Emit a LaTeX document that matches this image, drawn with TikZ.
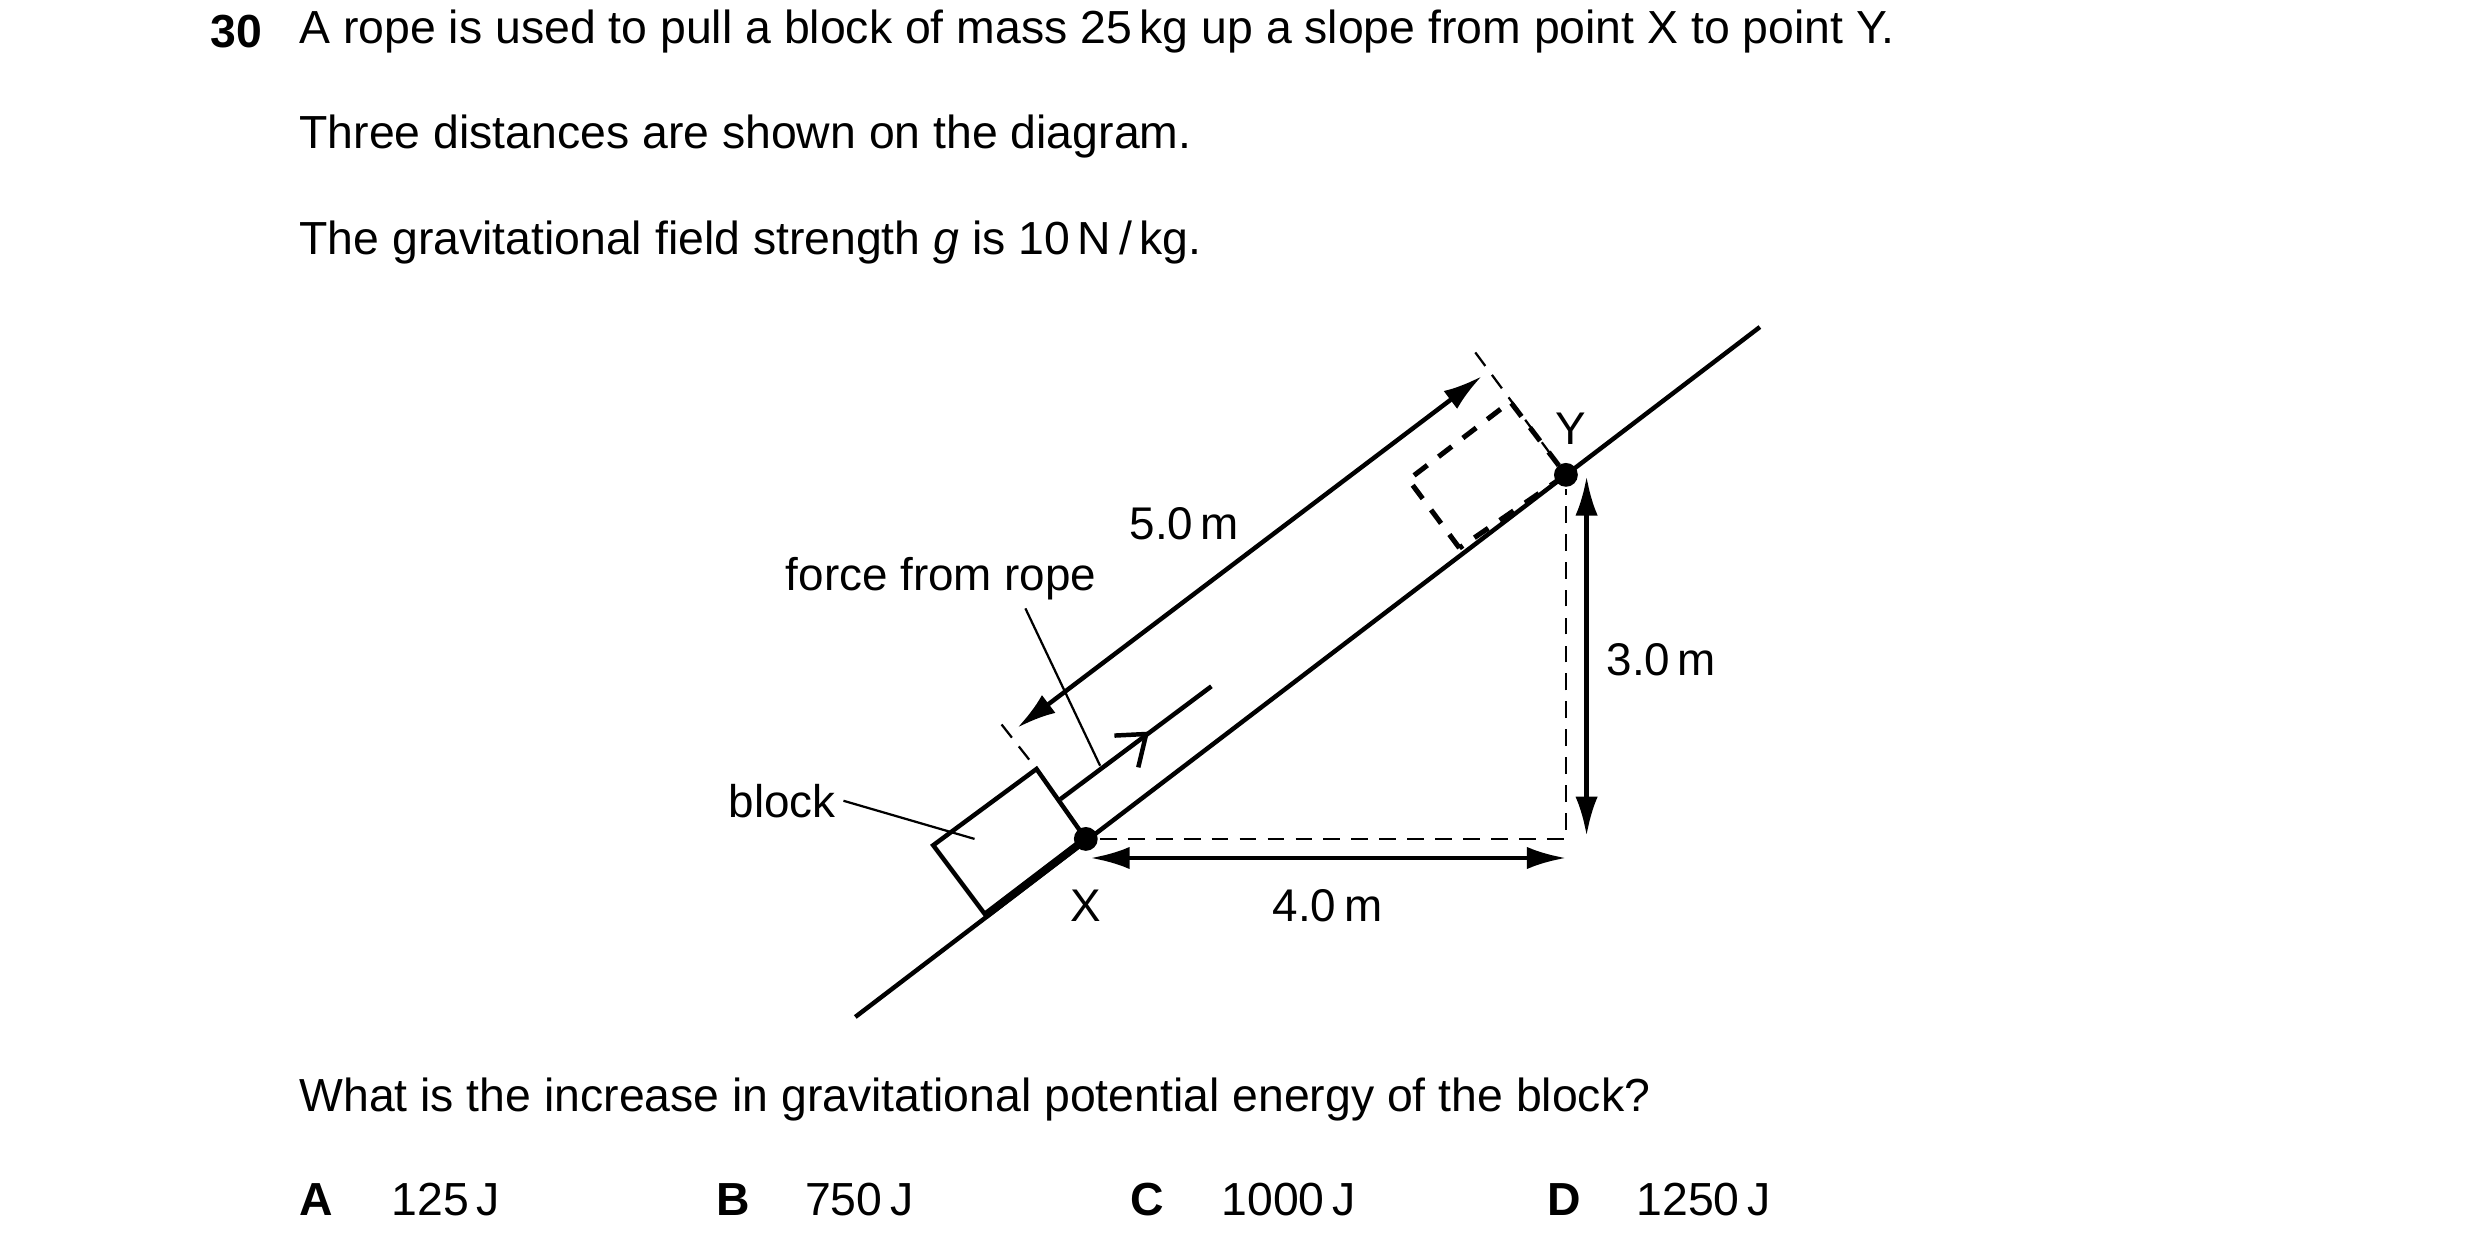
\documentclass[tikz,border=0pt]{standalone}
\usepackage{fontspec}
\setmainfont{Liberation Sans}
\usetikzlibrary{arrows.meta}
\usetikzlibrary{positioning}
\tikzset{
  txt/.style={anchor=west, inner sep=0pt, font=\fontsize{8.3}{10}\selectfont},
  bold txt/.style={txt, font=\fontsize{8.3}{10}\selectfont\bfseries},
  lbl/.style={inner sep=1pt, font=\fontsize{8.2}{10}\selectfont},
  dim/.style={line width=0.8pt, {Latex[length=7pt,width=4pt]}-{Latex[length=7pt,width=4pt]}},
  thin dash/.style={dashed, line width=0.4pt, dash pattern=on 3pt off 2pt},
  thick dash/.style={line width=0.9pt, dash pattern=on 3pt off 2.5pt},
  dot/.style={circle, fill=black, inner sep=0pt, minimum size=0.15cm}
}
\begin{document}
\begin{tikzpicture}[line width=0.8pt]
            \useasboundingbox (0,0) rectangle (15.6,7.857);
            % Question text
            \node[bold txt] (num) at (1.31,7.66) {30};
            \node[txt] (q1) at (1.87,7.66) {A rope is used to pull a block of mass 25\,kg up a slope from point X to point Y.};
            \node[txt] (q2) at (1.87,7.00) {Three distances are shown on the diagram.};
            \node[txt] (q3) at (1.87,6.33) {The gravitational field strength \textit{g} is 10\,N\,/\,kg.};
            
            % Slope and points
            \coordinate (s0) at (5.38,1.46);
            \coordinate (s1) at (11.07,5.80);
            \node[dot] (X) at (6.83,2.58) {};
            \node[dot] (Y) at (9.85,4.87) {};
            \coordinate (corner) at (9.85,2.58);
            \draw (s0) -- (s1);
            \node[lbl] (xl) at (6.83,2.16) {X};
            \node[lbl] (yl) at (9.88,5.16) {Y};
            
            % Block at X
            \coordinate (b1) at (6.20,2.10);
            \coordinate (b2) at (5.87,2.54);
            \coordinate (b3) at (6.52,3.02);
            \draw (b1) -- (b2) -- (b3) -- (X.center);
            \draw[line width=1.4pt] (b1) -- (X.center);
            
            % Block at Y
            \coordinate (d1) at (9.18,4.41);
            \coordinate (d2) at (8.86,4.84);
            \coordinate (d3) at (9.50,5.33);
            \draw[thick dash] (d1) -- (d2) -- (d3) -- (Y.center) -- cycle;
            
            % Rope
            \coordinate (r0) at (6.67,2.83);
            \coordinate (r1) at (7.62,3.54);
            \coordinate (rt) at (7.21,3.24);
            \draw (r0) -- (r1);
            \draw (7.01,3.23) -- (rt) -- (7.16,3.03);
            
            % 5.0 m
            \coordinate (e0) at (6.30,3.30);
            \coordinate (e1) at (9.28,5.64);
            \draw[thin dash] (e0) -- (b3);
            \draw[thin dash] (e1) -- (Y.center);
            \coordinate (f0) at (6.40,3.28);
            \coordinate (f1) at (9.32,5.49);
            \draw[dim] (f0) -- (f1);
            \node[lbl] (l5) at (7.45,4.56) {5.0\,m};
            
            % 4.0 m and 3.0 m
            \draw[thin dash] (X) -- (corner) -- (Y);
            \coordinate (h0) at (6.86,2.46);
            \coordinate (h1) at (9.85,2.46);
            \draw[dim] (h0) -- (h1);
            \node[lbl] (l4) at (8.35,2.16) {4.0\,m};
            \coordinate (v0) at (9.98,4.86);
            \coordinate (v1) at (9.98,2.60);
            \draw[dim] (v0) -- (v1);
            \node[lbl] (l3) at (10.45,3.71) {3.0\,m};
            
            % Labels with leaders
            \node[lbl] (frope) at (5.92,4.22) {force from rope};
            \coordinate (fr) at (6.92,3.04);
            \draw[line width=0.4pt] (6.45,4.03) -- (fr);
            \node[lbl] (blk) at (4.92,2.82) {block};
            \coordinate (bk) at (6.13,2.58);
            \draw[line width=0.4pt] (blk.east) -- (bk);
            
            % Question and options
            \node[txt] (q4) at (1.87,0.94) {What is the increase in gravitational potential energy of the block?};
            \node[bold txt] (oA) at (1.87,0.31) {A};
            \node[txt] (aA) at (2.45,0.31) {125\,J};
            \node[bold txt] (oB) at (4.49,0.31) {B};
            \node[txt] (aB) at (5.05,0.31) {750\,J};
            \node[bold txt] (oC) at (7.10,0.31) {C};
            \node[txt] (aC) at (7.67,0.31) {1000\,J};
            \node[bold txt] (oD) at (9.72,0.31) {D};
            \node[txt] (aD) at (10.28,0.31) {1250\,J};
        \end{tikzpicture}
\end{document}
